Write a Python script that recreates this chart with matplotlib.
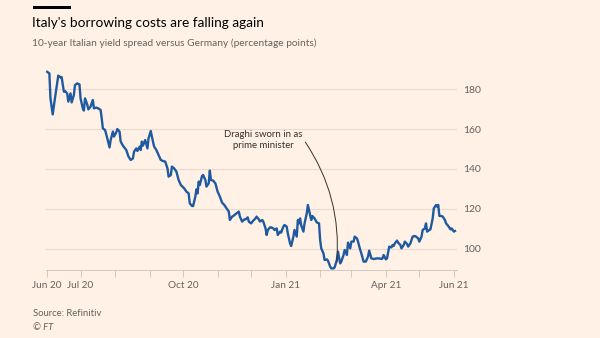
import matplotlib.pyplot as plt
from matplotlib.patches import Rectangle
import pandas as pd

# data (days after 1 Jun 2020, spread in percentage points)
start = "2020-06-01"
day_offset = [
    0, 2, 3, 5, 7, 10, 12, 13, 15, 16,
    18, 19, 21, 22, 24, 25, 27, 29, 30, 32,
    33, 34, 36, 37, 39, 41, 42, 44, 46, 48,
    49, 50, 52, 54, 56, 57, 59, 60, 62, 63,
    65, 66, 68, 71, 73, 75, 77, 78, 80, 81,
    83, 84, 85, 86, 88, 90, 91, 93, 94, 96,
    98, 100, 102, 104, 106, 108, 109, 111, 112, 114,
    116, 118, 120, 123, 125, 127, 128, 130, 131, 133,
    134, 135, 136, 137, 139, 140, 142, 143, 145, 146,
    147, 149, 151, 153, 155, 157, 159, 161, 163, 164,
    166, 167, 170, 172, 173, 175, 177, 178, 180, 181,
    183, 185, 187, 188, 190, 191, 193, 194, 196, 197,
    198, 200, 201, 203, 204, 206, 207, 209, 210, 212,
    213, 215, 216, 218, 219, 221, 222, 224, 225, 226,
    227, 228, 230, 231, 233, 234, 235, 237, 238, 240,
    242, 244, 245, 246, 248, 249, 251, 252, 254, 255,
    257, 258, 260, 261, 263, 264, 266, 267, 269, 270,
    272, 273, 275, 276, 278, 279, 281, 282, 284, 286,
    288, 289, 291, 293, 296, 298, 300, 301, 302, 304,
    305, 307, 309, 310, 311, 312, 314, 315, 317, 318,
    320, 321, 323, 324, 326, 327, 328, 330, 331, 333,
    334, 336, 337, 339, 340, 341, 343, 344, 346, 347,
    349, 350, 351, 352, 354, 355, 357, 358, 360, 362,
    363, 365, 366,
]
spread = [
    188.6, 187.8, 175.3, 167.3, 175.3, 186.7, 185.8, 186, 178.7, 179,
    177.8, 173.7, 177.8, 173.3, 177, 182, 182.8, 182.3, 175.3, 170.3,
    169.2, 175.3, 172.3, 169.8, 171.2, 174.5, 170.3, 170.7, 170.3, 169.5,
    165.3, 160.3, 159.5, 155.3, 150.8, 154.5, 158.7, 156.2, 158.3, 160,
    158.7, 153.7, 151.7, 149.5, 146.2, 144.5, 145.3, 148.7, 150.3, 149,
    151.2, 149.5, 153.7, 151.7, 154.5, 150.3, 155.3, 159, 156.2, 151.2,
    149.5, 147, 144.5, 144, 143.7, 140.3, 136.2, 137, 141.2, 140.3,
    138.7, 134.5, 132, 130.3, 128.7, 127.8, 122.8, 121.5, 121.5, 126.2,
    129.8, 127.8, 133.7, 132, 136.5, 137, 134.5, 131.2, 132.8, 139.2,
    134.5, 134.2, 132.8, 128.7, 126.2, 123.2, 122, 120.3, 118.7, 114.5,
    116.2, 116.5, 117.8, 118.7, 116.2, 113.7, 114.8, 114.8, 115.8, 113.7,
    112.8, 114.2, 115.3, 116.2, 114.8, 113.7, 114.5, 113.7, 110.3, 107,
    109.5, 110.8, 110.8, 110.3, 109.5, 110.3, 107, 108.7, 108.2, 111.2,
    112, 111.2, 107.8, 102.8, 101.5, 106.2, 109.5, 106.2, 114.5, 112.8,
    115.3, 111.8, 108.7, 112.8, 117.8, 122, 119.5, 114.5, 116.5, 115.3,
    113.3, 112.8, 104.5, 100.3, 97.8, 94.5, 94.8, 94.2, 91.2, 90.3,
    90.3, 90.8, 94.5, 98.7, 92.8, 93.7, 97, 99.5, 97, 103.2,
    100.3, 103.7, 103.7, 106.2, 105.3, 103.7, 99.5, 97.8, 93.7, 93.7,
    96.2, 99.2, 95.3, 95, 95.3, 95.3, 95, 95.3, 97, 94.8,
    95.3, 101.2, 100.8, 102, 101.5, 102.8, 104.2, 103.2, 102, 100.3,
    102, 103.7, 102.5, 101.2, 102.8, 104.5, 106.2, 106.5, 106.2, 105.3,
    103.7, 106.2, 109.5, 110.3, 112.8, 108.7, 109.5, 109.8, 115.3, 120.3,
    122, 121.2, 122, 116.5, 116.5, 116.2, 114.5, 112.8, 111.5, 109.8,
    110.3, 108.7, 109,
]
y_ticks = [100, 120, 140, 160, 180]
month_labels = {"2020-06": "Jun 20", "2020-07": "Jul 20", "2020-10": "Oct 20",
                "2021-01": "Jan 21", "2021-04": "Apr 21", "2021-06": "Jun 21"}

dates = pd.Timestamp(start) + pd.to_timedelta(day_offset, unit="D")

bg = "#fff1e5"
plt.rcParams['font.family'] = ['Lato', 'DejaVu Sans']

fig = plt.figure(figsize=(6, 3.38), dpi=100, facecolor=bg)
ax = fig.add_axes([0.0767, 0.2012, 0.6853, 0.6124], facecolor=bg)

ax.plot(dates, spread, color="#1f5aa0", linewidth=1.7, solid_joinstyle="round", zorder=3)

ax.set_ylim(89.5, 193)
ax.set_xlim(pd.Timestamp("2020-05-31"), pd.Timestamp("2021-06-04"))
ax.set_yticks(y_ticks)
ax.yaxis.tick_right()
ax.grid(axis="y", color="#e9dccf", linewidth=0.8)
ax.tick_params(axis="y", length=0, pad=4, labelsize=7.5, labelcolor="#66605c")

months = pd.date_range("2020-06-01", "2021-06-01", freq="MS")
ax.set_xticks(months)
ax.set_xticklabels([month_labels.get(m.strftime("%Y-%m"), "") for m in months])
ax.tick_params(axis="x", length=5, width=0.6, color="#ccc1b7", pad=3,
               labelsize=7.2, labelcolor="#66605c")

for s in ["top", "left", "right"]:
    ax.spines[s].set_visible(False)
ax.spines["bottom"].set_color("#ccc1b7")
ax.spines["bottom"].set_linewidth(0.6)

ax.annotate("Draghi sworn in as\nprime minister",
            xy=(pd.Timestamp("2021-02-16"), 93.5),
            xytext=(pd.Timestamp("2020-12-12"), 154.5),
            ha="center", va="center", fontsize=6.9, color="#33302e", linespacing=1.15,
            arrowprops=dict(arrowstyle="-", color="#33302e", linewidth=0.7,
                            connectionstyle="arc3,rad=-0.18", relpos=(1, 0.6),
                            shrinkA=0, shrinkB=0))

fig.add_artist(Rectangle((33 / 600, 1 - 8.5 / 338), 38 / 600, 2.5 / 338,
                         transform=fig.transFigure, color="#000000", linewidth=0))
fig.text(32 / 600, 1 - 23 / 338, "Italy's borrowing costs are falling again",
         fontsize=9.8, color="#000000", va="center", ha="left")
fig.text(32 / 600, 1 - 43 / 338,
         "10-year Italian yield spread versus Germany (percentage points)",
         fontsize=7.3, color="#66605c", va="center", ha="left")
fig.text(33 / 600, 1 - 314 / 338, "Source: Refinitiv", fontsize=6.8,
         color="#66605c", va="center", ha="left")
fig.text(33 / 600, 1 - 327 / 338, "© FT", fontsize=6.8, style="italic",
         color="#66605c", va="center", ha="left")

fig.savefig("out.png", dpi=100, facecolor=bg)
